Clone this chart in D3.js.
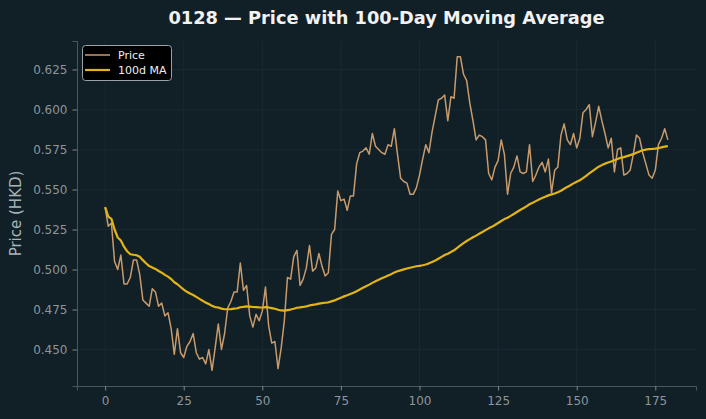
<!DOCTYPE html>
<html>
<head>
<meta charset="utf-8">
<script src="https://cdn.jsdelivr.net/npm/d3@7"></script>
<style>
  html, body { margin: 0; padding: 0; background: #111f26; }
  svg { display: block; font-family: "DejaVu Sans", sans-serif; }
</style>
</head>
<body>
<div id="chart"></div>
<script>
// daily closing prices (day index = position in the array)
var prices = [
  0.539, 0.527, 0.529, 0.505, 0.500, 0.509, 0.491, 0.491, 0.495, 0.506,
  0.506, 0.497, 0.481, 0.479, 0.477, 0.488, 0.486, 0.477, 0.479, 0.471,
  0.473, 0.463, 0.447, 0.463, 0.448, 0.445, 0.452, 0.455, 0.460, 0.448,
  0.444, 0.445, 0.441, 0.450, 0.437, 0.451, 0.466, 0.450, 0.460, 0.476,
  0.480, 0.486, 0.486, 0.504, 0.487, 0.490, 0.471, 0.464, 0.472, 0.468,
  0.474, 0.489, 0.465, 0.454, 0.455, 0.438, 0.451, 0.468, 0.495, 0.494,
  0.508, 0.512, 0.490, 0.494, 0.501, 0.515, 0.499, 0.501, 0.510, 0.502,
  0.496, 0.498, 0.522, 0.525, 0.549, 0.543, 0.544, 0.537, 0.546, 0.546,
  0.566, 0.573, 0.574, 0.576, 0.572, 0.585, 0.577, 0.575, 0.573, 0.572,
  0.578, 0.577, 0.588, 0.572, 0.557, 0.555, 0.554, 0.547, 0.547, 0.551,
  0.559, 0.569, 0.578, 0.573, 0.586, 0.596, 0.606, 0.607, 0.609, 0.593,
  0.608, 0.607, 0.633, 0.633, 0.622, 0.618, 0.604, 0.593, 0.581, 0.584,
  0.583, 0.581, 0.560, 0.556, 0.564, 0.568, 0.581, 0.572, 0.547, 0.560,
  0.564, 0.571, 0.561, 0.560, 0.561, 0.578, 0.555, 0.559, 0.564, 0.567,
  0.561, 0.569, 0.548, 0.562, 0.564, 0.584, 0.591, 0.581, 0.578, 0.585,
  0.576, 0.582, 0.598, 0.600, 0.603, 0.583, 0.592, 0.602, 0.593, 0.585,
  0.576, 0.582, 0.561, 0.575, 0.576, 0.559, 0.560, 0.562, 0.572, 0.584,
  0.582, 0.573, 0.566, 0.559, 0.557, 0.562, 0.578, 0.582, 0.588, 0.581
];

var maWindow = 100;

var xTicks = [0, 25, 50, 75, 100, 125, 150, 175];
var yTicks = [0.450, 0.475, 0.500, 0.525, 0.550, 0.575, 0.600, 0.625];

var seriesNames = ["Price", "100d MA"];

var titleText = "0128 \u2014 Price with 100-Day Moving Average";
var yLabel = "Price (HKD)";

// rolling mean, shorter window at the start (min periods = 1)
var movingAvg = prices.map(function(d, i) {
  return d3.mean(prices.slice(Math.max(0, i - maWindow + 1), i + 1));
});

var W = 706, H = 419;
var margin = { top: 41, right: 10, bottom: 33, left: 77 };
var width = W - margin.left - margin.right;
var height = H - margin.top - margin.bottom;

var colors = ["#c89b6d", "#e2b514"];

var svg = d3.select("#chart").append("svg")
  .attr("width", W)
  .attr("height", H);

svg.append("rect").attr("width", W).attr("height", H).attr("fill", "#111f26");

// matplotlib style 5% padding around data
var n = prices.length;
var xPad = (n - 1) * 0.05;
var yExt = d3.extent(prices.concat(movingAvg));
var yPad = (yExt[1] - yExt[0]) * 0.05;

var x = d3.scaleLinear()
  .domain([-xPad, n - 1 + xPad])
  .range([0, width]);

var y = d3.scaleLinear()
  .domain([yExt[0] - yPad, yExt[1] + yPad])
  .range([height, 0]);

var g = svg.append("g")
  .attr("transform", "translate(" + margin.left + "," + margin.top + ")");

// grid
g.append("g").selectAll("line.vgrid")
  .data(xTicks).enter().append("line")
  .attr("x1", function(d) { return x(d); })
  .attr("x2", function(d) { return x(d); })
  .attr("y1", 0).attr("y2", height)
  .attr("stroke", "#1d2c33").attr("stroke-width", 0.8);

g.append("g").selectAll("line.hgrid")
  .data(yTicks).enter().append("line")
  .attr("y1", function(d) { return y(d); })
  .attr("y2", function(d) { return y(d); })
  .attr("x1", 0).attr("x2", width)
  .attr("stroke", "#1d2c33").attr("stroke-width", 0.8);

// axes
var xAxis = g.append("g")
  .attr("transform", "translate(0," + height + ")")
  .call(d3.axisBottom(x).tickValues(xTicks).tickSize(4.5).tickPadding(6)
    .tickFormat(d3.format("d")));

var yAxis = g.append("g")
  .call(d3.axisLeft(y).tickValues(yTicks).tickSize(4.5).tickPadding(5)
    .tickFormat(d3.format(".3f")));

[xAxis, yAxis].forEach(function(ax) {
  ax.select(".domain").attr("stroke", "#4a565c").attr("stroke-width", 1);
  ax.selectAll(".tick line").attr("stroke", "#7d878c");
  ax.selectAll(".tick text")
    .attr("fill", "#8c969b")
    .style("font-size", "12px")
    .style("font-family", "DejaVu Sans");
});

// lines
var line = d3.line()
  .x(function(d, i) { return x(i); })
  .y(function(d) { return y(d); });

g.append("path")
  .datum(prices)
  .attr("fill", "none")
  .attr("stroke", colors[0])
  .attr("stroke-width", 1.5)
  .attr("stroke-linejoin", "round")
  .attr("d", line);

g.append("path")
  .datum(movingAvg)
  .attr("fill", "none")
  .attr("stroke", colors[1])
  .attr("stroke-width", 2.2)
  .attr("stroke-linejoin", "round")
  .attr("d", line);

// title + label
svg.append("text")
  .attr("x", margin.left + width / 2)
  .attr("y", 24)
  .attr("text-anchor", "middle")
  .attr("fill", "#f2f2f2")
  .style("font-size", "17.8px")
  .style("font-weight", "bold")
  .text(titleText);

svg.append("text")
  .attr("transform", "translate(21," + (margin.top + height / 2) + ") rotate(-90)")
  .attr("text-anchor", "middle")
  .attr("fill", "#aab3b7")
  .style("font-size", "15px")
  .text(yLabel);

// legend
var legend = svg.append("g").attr("transform", "translate(82,45)");

legend.append("rect")
  .attr("x", 0.5).attr("y", 0.5)
  .attr("width", 89).attr("height", 35)
  .attr("rx", 3)
  .attr("fill", "#000000")
  .attr("stroke", "#9aa2a6");

var items = legend.selectAll("g.item")
  .data(seriesNames).enter().append("g")
  .attr("transform", function(d, i) { return "translate(0," + (10 + i * 15) + ")"; });

items.append("line")
  .attr("x1", 3).attr("x2", 28)
  .attr("stroke", function(d, i) { return colors[i]; })
  .attr("stroke-width", function(d, i) { return i == 0 ? 1.5 : 2.2; });

items.append("text")
  .attr("x", 36).attr("y", 4)
  .attr("fill", "#eeeeee")
  .style("font-size", "11px")
  .text(function(d) { return d; });
</script>
</body>
</html>
